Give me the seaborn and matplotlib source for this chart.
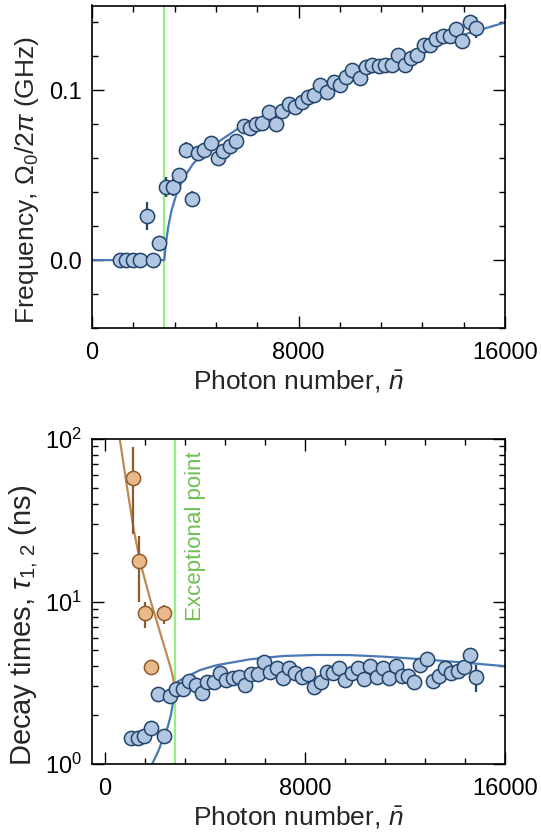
import numpy as np
import pandas as pd
import matplotlib
matplotlib.use("Agg")
import matplotlib.pyplot as plt
import seaborn as sns
from matplotlib.ticker import MultipleLocator, FixedLocator, LogLocator, NullFormatter, FixedFormatter

# ---------------- data ----------------
EP = 2800

top_x = [1084, 1316, 1574, 1858, 2116, 2374, 2606, 2864, 3122, 3354, 3625, 3870, 4090, 4347,
         4618, 4864, 5083, 5340, 5598, 5882, 6114, 6347, 6605, 6863, 7121, 7379, 7623, 7881,
         8127, 8372, 8591, 8849, 9107, 9365, 9623, 9855, 10087, 10372, 10604, 10862, 11120,
         11367, 11622, 11855, 12112, 12372, 12589, 12848, 13107, 13339, 13595, 13854, 14087,
         14344, 14629, 14888]
top_y = [0, 0, 0, 0, 0.026, 0, 0.010, 0.043, 0.043, 0.050, 0.065, 0.036, 0.063, 0.065,
         0.069, 0.060, 0.064, 0.067, 0.070, 0.079, 0.078, 0.080, 0.081, 0.087, 0.080, 0.088,
         0.092, 0.090, 0.093, 0.096, 0.0975, 0.103, 0.099, 0.105, 0.103, 0.108, 0.112, 0.107,
         0.114, 0.115, 0.1145, 0.115, 0.115, 0.121, 0.115, 0.119, 0.121, 0.1265, 0.127, 0.130,
         0.132, 0.132, 0.136, 0.129, 0.140, 0.137]
top_err = [0.002, 0.002, 0.002, 0.002, 0.008, 0.002, 0.002, 0.006, 0.005, 0.004, 0.0045, 0.0045,
           0.002, 0.002, 0.002, 0.002, 0.002, 0.002, 0.002, 0.002, 0.002, 0.002, 0.002, 0.002,
           0.002, 0.002, 0.002, 0.002, 0.002, 0.002, 0.002, 0.002, 0.002, 0.002, 0.002, 0.002,
           0.002, 0.002, 0.002, 0.002, 0.002, 0.002, 0.002, 0.002, 0.002, 0.002, 0.002, 0.002,
           0.002, 0.002, 0.002, 0.002, 0.002, 0.002, 0.004, 0.006]

top_fit_x = [0, 2800, 2800, 2864, 2953, 3084, 3277, 3535, 3922, 4438, 5081, 5598, 6500, 7663,
             8437, 10000, 12000, 14000, 16000]
top_fit_y = [0, 0, 0, 0.0098, 0.0196, 0.0294, 0.0392, 0.048, 0.0569, 0.0647, 0.0716, 0.0769,
             0.0835, 0.0915, 0.097, 0.108, 0.120, 0.131, 0.140]

bot_x = [1056, 1322, 1594, 1873, 2126, 2391, 2604, 2858, 3137, 3387, 3640, 3906, 4093, 4384,
         4623, 4862, 5130, 5369, 5620, 5871, 6126, 6377, 6616, 6883, 7122, 7373, 7612, 7880,
         8143, 8370, 8637, 8876, 9115, 9366, 9606, 9873, 10112, 10363, 10602, 10869, 11132,
         11371, 11626, 11866, 12129, 12368, 12623, 12885, 13125, 13364, 13603, 13858, 14109,
         14360, 14615, 14855]
bot_y = [1.44, 1.44, 1.49, 1.66, 2.70, 1.49, 2.63, 2.88, 2.88, 3.26, 3.06, 2.72, 3.21, 3.21,
         3.65, 3.29, 3.37, 3.45, 3.06, 3.58, 3.58, 4.22, 3.70, 3.88, 3.40, 3.88, 3.61, 3.42,
         3.56, 2.99, 3.21, 3.70, 3.61, 3.88, 3.29, 3.61, 3.88, 3.32, 4.03, 3.45, 3.88, 3.40,
         4.01, 3.48, 3.48, 3.21, 4.06, 4.43, 3.24, 3.48, 3.88, 3.61, 3.75, 3.97, 4.69, 3.42]
bot_err = [0.08] * 51 + [0.35, 0.35, 0.4, 0.1, 0.65]

orange_x = [1129, 1395, 1634, 1873, 2391]
orange_y = [57.8, 17.8, 8.46, 3.97, 8.46]
orange_lo = [26.2, 10.0, 6.9, 3.97, 7.3]
orange_hi = [88.9, 25.3, 10.0, 3.97, 9.5]

orange_fit_x = [610, 837, 1169, 1435, 1833, 2232, 2630, 2720, 2800]
orange_fit_y = [100, 58.5, 27.5, 17.2, 10.2, 6.36, 3.97, 3.5, 3.0]

blue_fit_x = [1900, 2150, 2364, 2530, 2650, 2740, 2800, 2900, 3162, 3826, 4490, 5819, 7147,
              8475, 9800, 11100, 12727, 14400, 16000]
blue_fit_y = [1.0, 1.2, 1.47, 1.7, 2.0, 2.4, 3.0, 3.2, 3.37, 3.79, 4.06, 4.41, 4.62, 4.69,
              4.68, 4.58, 4.41, 4.2, 4.0]

x_major = [0, 8000, 16000]
x_major_labels = ["0", "8000", "16000"]
top_y_major = [0.0, 0.1]
top_y_labels = ["0.0", "0.1"]

# ---------------- style ----------------
sns.set_theme(style="ticks")
FONT = "Liberation Sans"
plt.rcParams["font.family"] = [FONT, "DejaVu Sans"]
plt.rcParams.update({
    "mathtext.fontset": "custom",
    "mathtext.rm": FONT,
    "mathtext.it": FONT + ":italic",
    "mathtext.bf": FONT + ":bold",
    "axes.linewidth": 1.2,
    "axes.edgecolor": "black",
})

FS_TICK = 17
FS_LAB = 19
LW_FIT = 1.6
fill_blue = "#b1c6e0"
edge_blue = "#22446a"
fit_blue = "#4a78b5"
fill_orange = "#e9b98a"
edge_orange = "#8e5a2a"
fit_orange = "#bd8a55"
green = "#95ef82"
green_text = "#6fbf55"

fig = plt.figure(figsize=(5.41, 8.34), dpi=100)
L = 92 / 541
W = (505 - 92) / 541
ax1 = fig.add_axes([L, 1 - 328 / 834, W, (328 - 5.5) / 834])
ax2 = fig.add_axes([L, 1 - 764 / 834, W, (764 - 439) / 834])


def style_axis(ax):
    ax.tick_params(which="both", direction="in", top=True, right=True, width=1.0,
                   colors="black", labelsize=FS_TICK)
    ax.tick_params(which="major", length=8.5)
    ax.tick_params(which="minor", length=4.5)
    ax.tick_params(axis="x", which="both", pad=10)
    ax.tick_params(axis="y", which="both", pad=7)
    ax.xaxis.set_major_locator(FixedLocator(x_major))
    ax.xaxis.set_major_formatter(FixedFormatter(x_major_labels))
    ax.xaxis.set_minor_locator(MultipleLocator(1600))
    for s in ax.spines.values():
        s.set_visible(True)
        s.set_linewidth(1.2)


# ---------------- top panel ----------------
ax1.axvline(EP, color=green, lw=1.6, zorder=1)
sns.lineplot(x=top_fit_x, y=top_fit_y, ax=ax1, color=fit_blue, lw=LW_FIT, sort=False,
             estimator=None, zorder=2)
ax1.errorbar(top_x, top_y, yerr=top_err, fmt="none", ecolor=edge_blue, elinewidth=1.6,
             capsize=0, zorder=3)
sns.scatterplot(x=top_x, y=top_y, ax=ax1, s=105, color=fill_blue, edgecolor=edge_blue,
                linewidth=1.1, zorder=4)
ax1.set_xlim(0, 16000)
ax1.set_ylim(-0.04, 0.15)
style_axis(ax1)
ax1.yaxis.set_major_locator(FixedLocator(top_y_major))
ax1.yaxis.set_major_formatter(FixedFormatter(top_y_labels))
ax1.yaxis.set_minor_locator(MultipleLocator(0.02))
ax1.set_xlabel(r"Photon number, $\bar{n}$", fontsize=FS_LAB, labelpad=3)
ax1.set_ylabel(r"Frequency, $\Omega_0/2\pi$ (GHz)", fontsize=FS_LAB)
ax1.yaxis.set_label_coords(-0.124, 0.458)

# ---------------- bottom panel ----------------
ax2.axvline(EP, color=green, lw=1.6, zorder=1)
sns.lineplot(x=orange_fit_x, y=orange_fit_y, ax=ax2, color=fit_orange, lw=LW_FIT, sort=False,
             estimator=None, zorder=2)
sns.lineplot(x=blue_fit_x, y=blue_fit_y, ax=ax2, color=fit_blue, lw=LW_FIT, sort=False,
             estimator=None, zorder=2)
ax2.errorbar(bot_x, bot_y, yerr=bot_err, fmt="none", ecolor=edge_blue, elinewidth=1.6,
             capsize=0, zorder=3)
o_y = np.array(orange_y)
o_err = [o_y - np.array(orange_lo), np.array(orange_hi) - o_y]
ax2.errorbar(orange_x, orange_y, yerr=o_err, fmt="none", ecolor=edge_orange, elinewidth=1.6,
             capsize=0, zorder=3)
sns.scatterplot(x=bot_x, y=bot_y, ax=ax2, s=105, color=fill_blue, edgecolor=edge_blue,
                linewidth=1.1, zorder=4)
sns.scatterplot(x=orange_x, y=orange_y, ax=ax2, s=105, color=fill_orange,
                edgecolor=edge_orange, linewidth=1.1, zorder=4)
ax2.set_yscale("log")
ax2.set_xlim(-500, 16000)
ax2.set_ylim(1, 100)
style_axis(ax2)
ax2.yaxis.set_minor_locator(LogLocator(base=10, subs=np.arange(2, 10)))
ax2.yaxis.set_minor_formatter(NullFormatter())
ax2.text(3627, 25.2, "Exceptional point", rotation=90, ha="center", va="center",
         color=green_text, fontsize=16)
ax2.set_xlabel(r"Photon number, $\bar{n}$", fontsize=FS_LAB, labelpad=3)
ax2.set_ylabel(r"Decay times, $\tau_{1,\,2}$ (ns)", fontsize=21)
ax2.yaxis.set_label_coords(-0.126, 0.428)

fig.savefig("out.png", dpi=100)
